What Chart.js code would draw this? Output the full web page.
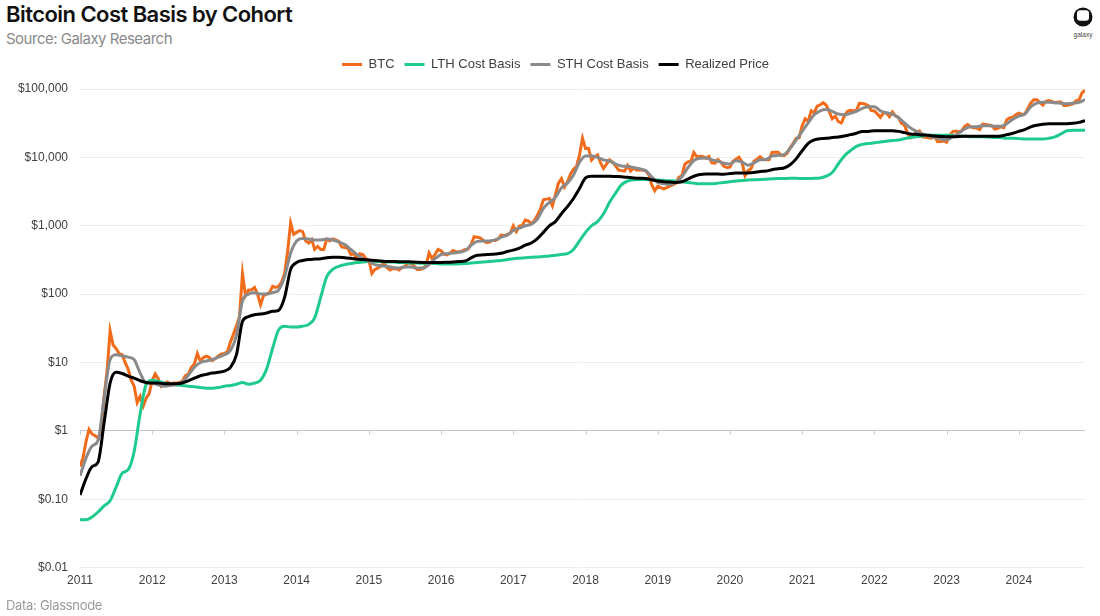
<!DOCTYPE html>
<html>
<head>
<meta charset="utf-8">
<script src="https://cdn.jsdelivr.net/npm/chart.js@4.4.1/dist/chart.umd.min.js"></script>
<style>
  html, body { margin: 0; padding: 0; background: #ffffff; }
  body { width: 1100px; height: 616px; position: relative; overflow: hidden; font-family: "Liberation Sans", Arial, sans-serif; }
  #title { position: absolute; left: 6px; top: 1px; font-family: Inter, "Liberation Sans", sans-serif; font-weight: 600; font-size: 22px; letter-spacing: -0.55px; color: #111; white-space: nowrap; }
  #subtitle { position: absolute; left: 6px; top: 29px; font-family: Inter, "Liberation Sans", sans-serif; font-size: 15px; letter-spacing: -0.5px; color: #8a8a8a; white-space: nowrap; }
  #footer { position: absolute; left: 6px; top: 597px; font-family: Inter, "Liberation Sans", sans-serif; font-size: 13px; letter-spacing: -0.3px; color: #9a9a9a; white-space: nowrap; }
  #logo { position: absolute; left: 1071px; top: 7px; width: 24px; text-align: center; }
  #logo span { display: block; font-size: 6.5px; color: #444; margin-top: 0px; font-family: "Liberation Sans", Arial, sans-serif; }
  #wrap { position: absolute; left: 0; top: 0; width: 1100px; height: 600px; }
</style>
</head>
<body>
<div id="title">Bitcoin Cost Basis by Cohort</div>
<div id="subtitle">Source: Galaxy Research</div>
<div id="logo">
  <svg width="20" height="20" viewBox="0 0 20 20">
    <circle cx="10" cy="10" r="9.5" fill="#111"/>
    <rect x="4" y="3.2" width="12" height="10.5" rx="3.2" fill="#fff"/>
  </svg>
  <span>galaxy</span>
</div>
<div id="wrap"><canvas id="c"></canvas></div>
<div id="footer">Data: Glassnode</div>
<script>
// ---- Axis / label data ----
const startYear = 2011;
const yearTicks = [2011, 2012, 2013, 2014, 2015, 2016, 2017, 2018, 2019, 2020, 2021, 2022, 2023, 2024];
const priceTicks = [0.01, 0.1, 1, 10, 100, 1000, 10000, 100000];
const priceTickLabels = ["$0.01", "$0.10", "$1", "$10", "$100", "$1,000", "$10,000", "$100,000"];
const seriesNames = ["BTC", "LTH Cost Basis", "STH Cost Basis", "Realized Price"];

// BTC price: twice a month (1st, 15th), Jan 2011 .. Dec 1 2024
const btcPerYear = 24;
const btc = [
  0.3, 0.4, 0.7, 1.05, 0.9, 0.85, 0.78, 1.0, 3.2, 7.5, 29, 18, 16, 13.5, 13, 10, 8, 5.5, 4.5, 2.6, 3.2, 2.3, 3.0, 3.5,
  5.5, 6.8, 5.8, 4.5, 4.9, 5.2, 4.9, 5.0, 5.0, 5.1, 5.3, 6.4, 6.7, 8.5, 9.5, 13.5, 10.5, 11.8, 12.4, 11.8, 10.7, 11.5, 12.5, 13.3,
  13.5, 14.5, 20, 26, 34, 47, 200, 95, 115, 115, 125, 100, 70, 95, 100, 105, 130, 125, 130, 150, 200, 420, 1100, 750,
  800, 850, 820, 600, 560, 630, 450, 500, 450, 450, 640, 600, 640, 620, 590, 490, 480, 470, 380, 390, 330, 390, 380, 330,
  315, 200, 230, 240, 260, 285, 245, 225, 235, 235, 225, 245, 255, 285, 280, 260, 230, 230, 238, 260, 400, 330, 380, 450,
  430, 385, 375, 400, 435, 415, 415, 430, 450, 455, 535, 690, 680, 665, 610, 570, 575, 610, 610, 640, 730, 710, 750, 780,
  1000, 820, 990, 1010, 1220, 1170, 1080, 1180, 1420, 1750, 2400, 2450, 2500, 1950, 2850, 4200, 4900, 3700, 4400, 5700, 6700, 7300, 10800, 19000,
  13500, 13600, 9100, 10200, 10900, 8300, 6900, 8000, 9200, 8500, 7500, 6500, 6400, 6300, 7600, 6300, 7000, 6500, 6600, 6500, 6350, 5600, 4000, 3250,
  3800, 3600, 3450, 3600, 3800, 3950, 4150, 5100, 5350, 7900, 8550, 8700, 11800, 10200, 10400, 10300, 9700, 10300, 8300, 8200, 9250, 8500, 7400, 7100,
  7200, 8800, 9400, 10100, 8600, 5400, 6400, 6800, 8800, 9400, 10200, 9400, 9200, 9200, 11800, 11900, 11900, 10800, 10600, 11500, 13800, 16000, 19000, 19400,
  29000, 36800, 33500, 48000, 45000, 56000, 58800, 63000, 57800, 46500, 36700, 40000, 33500, 31800, 39900, 47000, 48800, 48000, 48200, 61600, 61300, 60100, 57000, 48400,
  47700, 43100, 38500, 44500, 44400, 39300, 46300, 40500, 38500, 31300, 29800, 22500, 19300, 20800, 23300, 24300, 20000, 19700, 19300, 19100, 20500, 16900, 17000, 17400,
  16600, 20900, 23700, 24300, 23600, 24400, 28500, 30300, 28000, 27000, 26800, 25600, 30600, 30300, 29700, 29200, 25900, 26600, 27900, 27100, 35400, 37900, 38700, 42000,
  44200, 42500, 43100, 51900, 62400, 69400, 69700, 63400, 58300, 66200, 67800, 66000, 62700, 64700, 64600, 57500, 57300, 59200, 60800, 67000, 69500, 88000, 96000
];

// Cost basis series: monthly, Jan 2011 .. Dec 2024
const costPerYear = 12;
const lthCostBasis = [
  0.05, 0.05, 0.055, 0.065, 0.08, 0.095, 0.15, 0.24, 0.27, 0.5, 1.8, 4.8,
  5.5, 5.3, 5.0, 4.8, 4.7, 4.6, 4.5, 4.4, 4.3, 4.2, 4.2, 4.3,
  4.5, 4.6, 4.8, 5.1, 4.8, 5.0, 5.5, 8, 16, 30, 34, 33,
  33, 34, 36, 45, 90, 180, 230, 255, 270, 280, 290, 295,
  300, 300, 300, 295, 295, 290, 290, 285, 285, 282, 280, 280,
  275, 275, 275, 278, 280, 285, 290, 295, 300, 305, 310, 320,
  330, 335, 340, 345, 350, 355, 360, 370, 380, 390, 450, 600,
  800, 1000, 1150, 1500, 2200, 3000, 4000, 4500, 4700, 4750, 4750, 4700,
  4650, 4600, 4550, 4500, 4400, 4300, 4200, 4100, 4100, 4100, 4200, 4300,
  4400, 4500, 4600, 4650, 4700, 4750, 4800, 4850, 4900, 4900, 4950, 4950,
  4900, 4900, 4950, 5000, 5300, 6000, 8000, 10500, 12500, 14500, 15500, 16000,
  16300, 16800, 17200, 17600, 18000, 18800, 19500, 20000, 20500, 21000, 21000, 21000,
  21000, 21000, 20500, 20500, 20000, 20000, 20000, 19800, 19500, 19500, 19000, 19000,
  18800, 18500, 18500, 18500, 18500, 19000, 20000, 22000, 24500, 25000, 25000, 25000
];

const sthCostBasis = [
  0.22, 0.4, 0.6, 0.72, 3, 11, 13, 12.5, 12, 11, 7, 5,
  5, 4.7, 4.5, 4.6, 4.8, 5.2, 6.5, 8.5, 10, 10.5, 11, 12,
  13, 15, 25, 80, 100, 105, 100, 100, 105, 115, 180, 400,
  600, 650, 640, 620, 620, 640, 620, 580, 530, 450, 380, 330,
  300, 270, 260, 255, 245, 240, 250, 250, 240, 240, 270, 330,
  380, 390, 400, 410, 430, 520, 590, 600, 600, 620, 680, 730,
  850, 920, 1000, 1050, 1250, 1800, 2200, 2600, 3600, 4200, 5500, 8500,
  10500, 10500, 10000, 9200, 8800, 8000, 7500, 7400, 7100, 6800, 6400, 5200,
  4300, 4100, 4000, 4300, 5200, 7000, 9000, 9700, 9800, 9200, 8800, 8200,
  8000, 8900, 8500, 7700, 8300, 9200, 9300, 10500, 10700, 11000, 13500, 18000,
  24000, 32000, 42000, 48000, 50000, 47000, 43000, 42000, 44000, 47000, 52000, 55000,
  55000, 48000, 45000, 43000, 38000, 32000, 27000, 24000, 22000, 20500, 19500, 18500,
  18000, 20000, 22500, 26000, 28000, 28000, 29000, 29000, 28500, 28500, 31000, 36000,
  40000, 43000, 55000, 62000, 64000, 64000, 63000, 62000, 61000, 62000, 64000, 70000
];

const realizedPrice = [
  0.115, 0.2, 0.3, 0.35, 1.3, 5, 7.2, 6.9, 6.3, 5.9, 5.4, 5.1,
  5.0, 5.0, 4.9, 4.9, 4.9, 5.0, 5.4, 5.9, 6.4, 6.7, 7.0, 7.2,
  7.5, 8.5, 13, 40, 47, 50, 51, 53, 56, 58, 90, 230,
  290, 310, 320, 325, 330, 340, 345, 345, 340, 335, 325, 320,
  315, 310, 305, 300, 300, 298, 298, 295, 292, 290, 290, 290,
  290, 292, 295, 300, 305, 340, 370, 375, 380, 385, 395, 420,
  440, 470, 520, 560, 650, 800, 1000, 1150, 1500, 1900, 2500, 3500,
  5000, 5300, 5300, 5300, 5300, 5250, 5200, 5100, 5000, 4950, 4900, 4700,
  4500, 4400, 4350, 4300, 4400, 4800, 5300, 5600, 5700, 5700, 5700, 5650,
  5800, 5900, 5900, 5900, 6000, 6200, 6300, 6600, 6800, 7000, 7800, 9500,
  12500, 16000, 18000, 18800, 19000, 19500, 19800, 20500, 21500, 22500, 24000, 24000,
  24500, 24500, 24500, 24500, 24000, 23000, 22000, 21700, 21300, 21000, 20500, 20200,
  20000, 20000, 20200, 20300, 20300, 20300, 20300, 20300, 20300, 20500, 21500, 22500,
  24000, 25500, 28000, 29500, 30500, 31000, 31000, 31000, 31000, 31500, 32500, 34500
];

const colors = ["#f26b1a", "#1fcb8c", "#8a8a8a", "#000000"];

function toPoints(arr, perYear) {
  return arr.map((v, i) => ({ x: startYear + i / perYear, y: v }));
}

const allSeries = [[btc, btcPerYear], [lthCostBasis, costPerYear], [sthCostBasis, costPerYear], [realizedPrice, costPerYear]];
const datasets = allSeries.map(([arr, per], k) => ({
  label: seriesNames[k],
  data: toPoints(arr, per),
  borderColor: colors[k],
  backgroundColor: colors[k],
  borderWidth: 3,
  pointRadius: 0,
  pointHoverRadius: 0,
  pointStyle: "line",
  cubicInterpolationMode: k === 0 ? "default" : "monotone",
  tension: 0,
  order: 4 - k
}));

const axisTickMarks = {
  id: "axisTickMarks",
  afterDatasetsDraw(chart) {
    const { ctx, scales } = chart;
    const y1 = scales.y.getPixelForValue(1);
    ctx.save();
    ctx.strokeStyle = "#cfcfcf";
    ctx.lineWidth = 1;
    yearTicks.forEach(yr => {
      const x = Math.round(scales.x.getPixelForValue(yr)) + 0.5;
      ctx.beginPath();
      ctx.moveTo(x, y1);
      ctx.lineTo(x, y1 + 4);
      ctx.stroke();
    });
    ctx.restore();
  }
};

const legendTweak = {
  id: "legendTweak",
  beforeInit(chart) {
    const lg = chart.legend;
    const origFit = lg.fit;
    lg.fit = function () {
      origFit.call(this);
      this.height += 8;
    };
    const origDraw = lg.draw;
    lg.draw = function () {
      const shift = 13;
      this.left += shift; this.right += shift;
      origDraw.call(this);
      this.left -= shift; this.right -= shift;
    };
  }
};

const lastX = startYear + (btc.length - 1) / btcPerYear;

new Chart(document.getElementById("c"), {
  type: "line",
  data: { datasets },
  plugins: [axisTickMarks, legendTweak],
  options: {
    responsive: true,
    maintainAspectRatio: false,
    animation: false,
    layout: { padding: { top: 48, right: 15, bottom: 6, left: 0 } },
    plugins: {
      legend: {
        position: "top",
        align: "center",
        labels: {
          usePointStyle: true,
          pointStyleWidth: 20,
          boxHeight: 12,
          padding: 10,
          color: "#404040",
          font: { family: "'Liberation Sans', Arial, sans-serif", size: 13 },
          sort: (a, b) => a.datasetIndex - b.datasetIndex
        }
      },
      tooltip: { enabled: false }
    },
    scales: {
      x: {
        type: "linear",
        min: startYear,
        max: lastX,
        grid: { display: false, drawTicks: false },
        border: { display: false },
        afterBuildTicks: s => { s.ticks = yearTicks.map(v => ({ value: v })); },
        ticks: {
          padding: 6,
          color: "#404040",
          font: { family: "'Liberation Sans', Arial, sans-serif", size: 12 },
          maxRotation: 0,
          autoSkip: false,
          callback: v => String(v)
        }
      },
      y: {
        type: "logarithmic",
        min: priceTicks[0],
        max: priceTicks[priceTicks.length - 1],
        afterBuildTicks: s => { s.ticks = priceTicks.map(v => ({ value: v })); },
        afterFit: s => { s.width = 80; },
        grid: {
          drawTicks: false,
          color: ctx => (ctx.tick && ctx.tick.value === 1 ? "#c4c4c4" : "#eeeeee"),
          lineWidth: 1
        },
        border: { display: false },
        ticks: {
          padding: 12,
          color: "#404040",
          font: { family: "'Liberation Sans', Arial, sans-serif", size: 12 },
          callback: (v) => {
            const idx = priceTicks.findIndex(t => Math.abs(t - v) / t < 1e-6);
            return idx >= 0 ? priceTickLabels[idx] : "";
          }
        }
      }
    }
  }
});
</script>
</body>
</html>
